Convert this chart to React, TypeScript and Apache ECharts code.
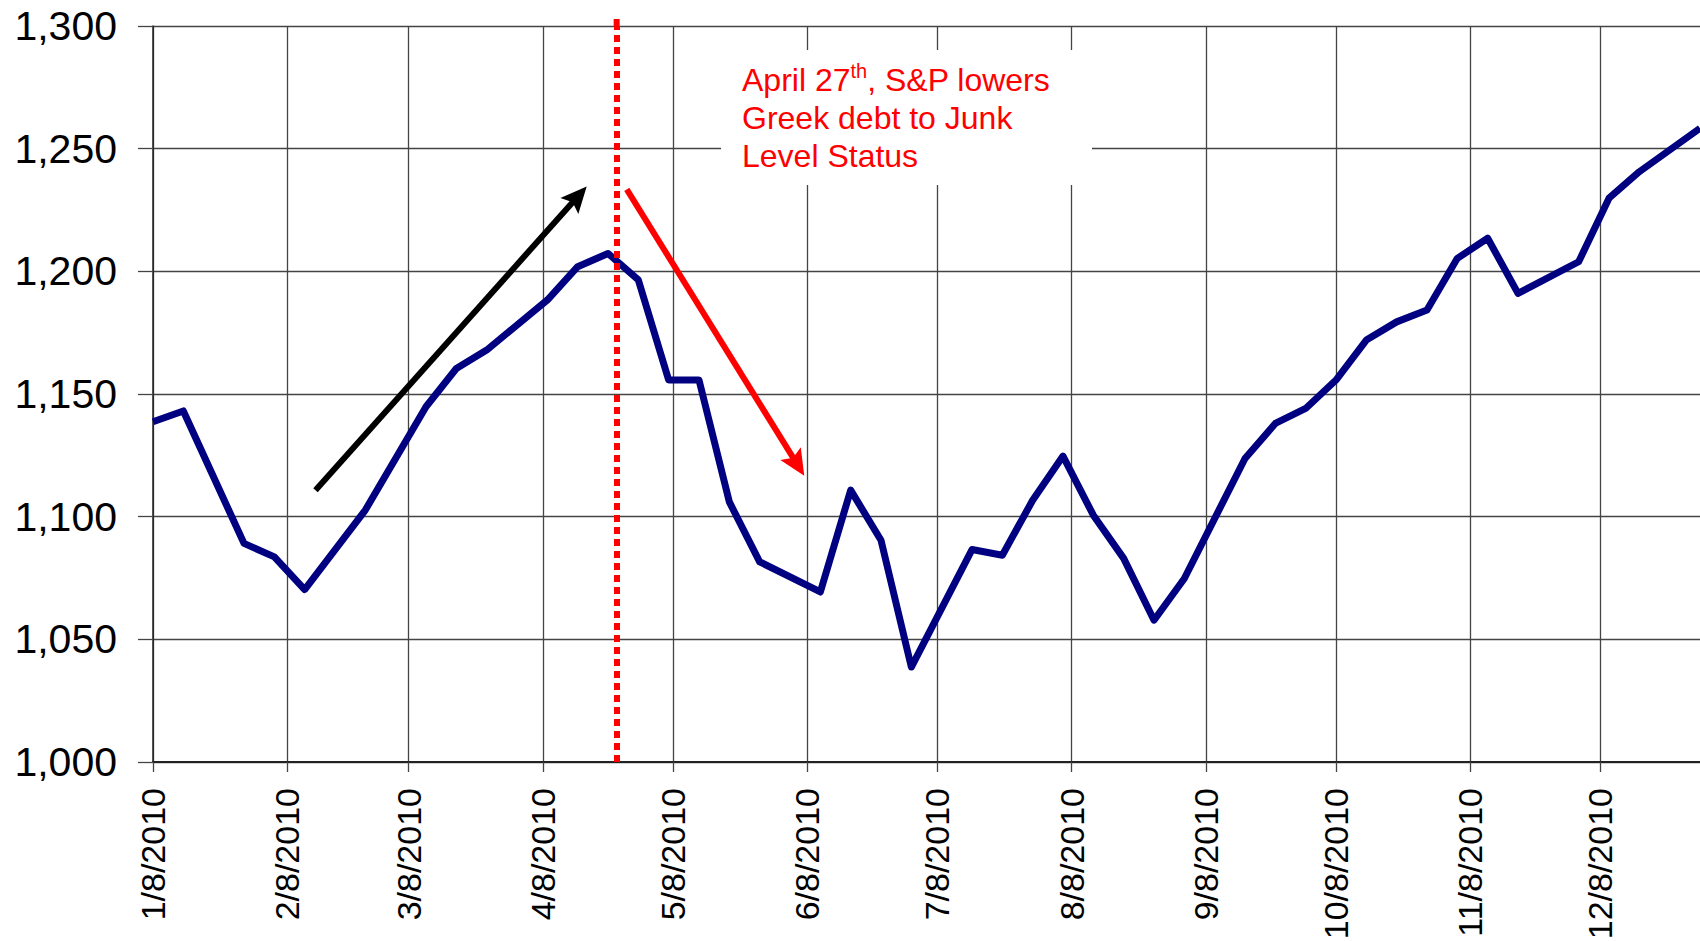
import React, { useEffect, useRef } from 'react';
import * as echarts from 'echarts';

// Weekly closes (visible vertices of the line)
const dates = [
  '2010-01-08', '2010-01-15', '2010-01-29', '2010-02-05', '2010-02-12', '2010-02-26',
  '2010-03-12', '2010-03-19', '2010-03-26', '2010-04-09', '2010-04-16', '2010-04-23',
  '2010-04-30', '2010-05-07', '2010-05-14', '2010-05-21', '2010-05-28', '2010-06-11',
  '2010-06-18', '2010-06-25', '2010-07-02', '2010-07-16', '2010-07-23', '2010-07-30',
  '2010-08-06', '2010-08-13', '2010-08-20', '2010-08-27', '2010-09-03', '2010-09-17',
  '2010-09-24', '2010-10-01', '2010-10-08', '2010-10-15', '2010-10-22', '2010-10-29',
  '2010-11-05', '2010-11-12', '2010-11-19', '2010-12-03', '2010-12-10', '2010-12-17',
  '2010-12-31',
];
const values = [
  1138.7, 1143.1, 1089.1, 1083.6, 1070.3, 1102.7,
  1144.8, 1160.4, 1167.9, 1188.3, 1201.9, 1207.3,
  1196.5, 1155.7, 1155.7, 1106.0, 1081.6, 1069.3,
  1110.8, 1090.4, 1038.7, 1086.6, 1084.3, 1106.7,
  1124.7, 1100.6, 1083.0, 1057.8, 1074.8, 1123.7,
  1138.0, 1144.1, 1155.7, 1172.0, 1179.4, 1184.2,
  1205.3, 1213.5, 1191.0, 1203.9, 1229.8, 1240.6,
  1258.3,
];

// X axis tick dates (labels "M/8/2010")
const tickDates = [
  '2010-01-08', '2010-02-08', '2010-03-08', '2010-04-08', '2010-05-08', '2010-06-08',
  '2010-07-08', '2010-08-08', '2010-09-08', '2010-10-08', '2010-11-08', '2010-12-08',
];
const xMin = '2010-01-08';
const xMax = '2010-12-31';
const yMin = 1000;
const yMax = 1300;
const yStep = 50;

// Event marker and annotation arrows (tail, head-centre)
const eventDate = '2010-04-25';
const eventTop = 1304;
const upArrow = [['2010-02-14 12:00', 1110.8], ['2010-04-16 02:00', 1230.6]];
const downArrow = [['2010-04-27 08:00', 1233.4], ['2010-06-05 17:00', 1121.2]];
const noteMain = 'April 27';
const noteSup = 'th';
const noteRest = ', S&P lowers';
const noteLine2 = 'Greek debt to Junk';
const noteLine3 = 'Level Status';

const toTime = (s: string) => {
  const [d, t] = s.split(' ');
  const [y, m, dd] = d.split('-').map(Number);
  const [hh, mm] = t ? t.split(':').map(Number) : [0, 0];
  return new Date(y, m - 1, dd, hh, mm).getTime();
};

const FONT = '"Liberation Sans", Arial, Helvetica, sans-serif';
const DOT = [7, 5];
const HEAD = 'path://M10,0 L20,26 L10,21 L0,26 Z';

export default function App() {
  const ref = useRef<HTMLDivElement>(null);
  useEffect(() => {
    const chart = echarts.init(ref.current!, null, { renderer: 'svg' });
    const tickTimes = tickDates.map(toTime);
    const data = dates.map((d, i) => [toTime(d), values[i]]);
    const arrowPair = (pts: any[], color: string) => [
      { coord: [toTime(pts[0][0]), pts[0][1]], symbol: 'none', lineStyle: { color, width: 6, type: 'solid', cap: 'butt' } },
      { coord: [toTime(pts[1][0]), pts[1][1]], symbol: HEAD, symbolSize: [24, 26] },
    ];
    const baseGraphic = [
      { id: 'noteBox', type: 'rect', z: 100, shape: { x: 721, y: 50, width: 371, height: 135 }, style: { fill: '#ffffff' } },
      {
        id: 'noteText',
        type: 'text',
        z: 101,
        x: 742,
        y: 61,
        style: {
          text: `{a|${noteMain}}{s|${noteSup}}{a|${noteRest}}\n{a|${noteLine2}}\n{a|${noteLine3}}`,
          fill: '#ff0000',
          font: `32px ${FONT}`,
          verticalAlign: 'top',
          rich: {
            a: { fontSize: 32, fontFamily: FONT, lineHeight: 38, fill: '#ff0000' },
            s: { fontSize: 20, fontFamily: FONT, lineHeight: 20, verticalAlign: 'top', fill: '#ff0000' },
          },
        },
      },
    ];
    chart.setOption({
      animation: false,
      backgroundColor: '#ffffff',
      grid: { left: 153, right: 0, top: 26, bottom: 179, containLabel: false, outerBoundsMode: 'none' },
      xAxis: {
        type: 'value',
        min: toTime(xMin),
        max: toTime(xMax),
        axisLine: { show: true, lineStyle: { color: '#222', width: 2 } },
        axisTick: { show: true, length: 10, inside: false, customValues: tickTimes, lineStyle: { color: '#444', width: 1.3 } },
        axisLabel: {
          show: true,
          customValues: tickTimes,
          rotate: 90,
          margin: 26,
          fontSize: 34,
          fontFamily: FONT,
          color: '#000',
          formatter: (v: number) => {
            const d = new Date(v);
            return `${d.getMonth() + 1}/${d.getDate()}/${d.getFullYear()}`;
          },
        },
        splitLine: { show: true, lineStyle: { color: '#444', width: 1.3 } },
      },
      yAxis: {
        type: 'value',
        min: yMin,
        max: yMax,
        interval: yStep,
        axisLine: { show: true, lineStyle: { color: '#222', width: 1.5 } },
        axisTick: { show: true, length: 15, inside: false, lineStyle: { color: '#444', width: 1.3 } },
        axisLabel: {
          margin: 36,
          fontSize: 41,
          fontFamily: FONT,
          color: '#000',
          formatter: (v: number) => v.toLocaleString('en-US'),
        },
        splitLine: { show: true, lineStyle: { color: '#444', width: 1.3 } },
      },
      series: [
        {
          type: 'line',
          data,
          showSymbol: false,
          symbol: 'none',
          lineStyle: { color: '#000080', width: 7, join: 'round' },
          z: 3,
          markLine: {
            silent: true,
            animation: false,
            label: { show: false },
            emphasis: { disabled: true },
            data: [
              [
                { coord: [toTime(eventDate), yMin], symbol: 'none', lineStyle: { color: '#ff0000', width: 6, type: DOT } },
                { coord: [toTime(eventDate), yMax], symbol: 'none' },
              ],
              arrowPair(upArrow, '#000000'),
              arrowPair(downArrow, '#ff0000'),
            ],
          },
        },
      ],
      graphic: baseGraphic,
    });
    // extend the dotted event line a little above the plot top
    const [ex, eyTop] = chart.convertToPixel({ gridIndex: 0 }, [toTime(eventDate), eventTop]) as number[];
    const [, eyMax] = chart.convertToPixel({ gridIndex: 0 }, [toTime(eventDate), yMax]) as number[];
    chart.setOption({
      graphic: [
        ...baseGraphic,
        {
          id: 'eventTop',
          type: 'line',
          z: 5,
          shape: { x1: ex, y1: eyMax, x2: ex, y2: eyTop },
          style: { stroke: '#ff0000', lineWidth: 6, lineDash: DOT },
        },
      ],
    });
    return () => chart.dispose();
  }, []);
  return (
    <div
      ref={ref}
      style={{ position: 'fixed', left: 0, top: 0, width: 1700, height: 941, background: '#fff' }}
    />
  );
}
